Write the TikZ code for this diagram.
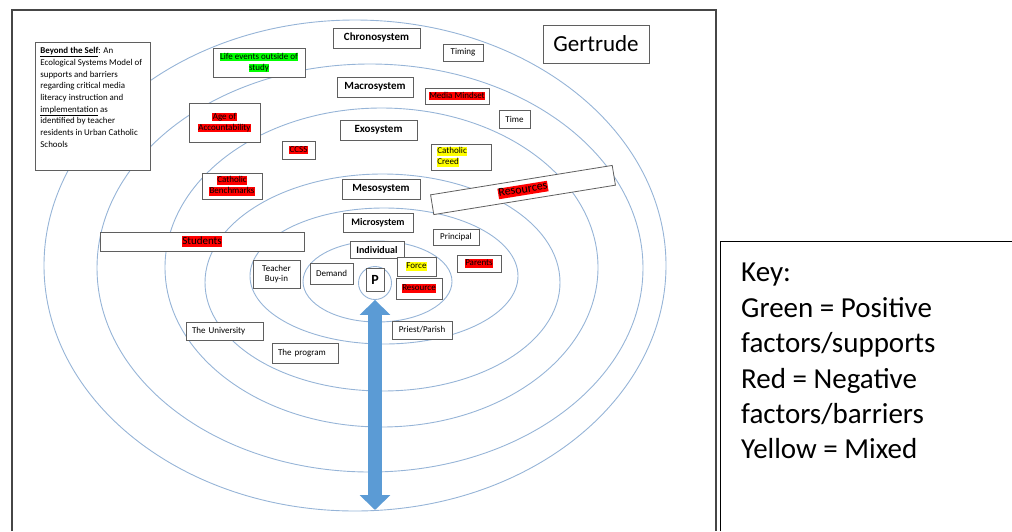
\documentclass[tikz,border=0pt]{standalone}
\usepackage{fontspec}
\setmainfont{Carlito}
\usetikzlibrary{arrows.meta}
\definecolor{ringblue}{RGB}{150,180,215}
\definecolor{arrowblue}{RGB}{91,155,213}
\definecolor{boxgray}{RGB}{95,95,95}
\definecolor{framegray}{RGB}{70,70,70}
\definecolor{hlred}{RGB}{255,0,0}
\definecolor{hlgreen}{RGB}{0,255,0}
\definecolor{hlyellow}{RGB}{255,255,0}
\newcommand{\hlbox}[2]{{\setlength{\fboxsep}{0.4pt}\colorbox{#1}{\vphantom{Ag}#2}}}
\tikzset{
  ring/.style={draw=ringblue, line width=0.9pt},
  lbl/.style={draw=boxgray, fill=white, line width=0.8pt, inner sep=1pt, align=center, font=\fontsize{9}{11}\selectfont},
  sysbox/.style={lbl, font=\bfseries\fontsize{11}{13}\selectfont}
}
\begin{document}
\begin{tikzpicture}[x=1pt, y=-1pt]
\useasboundingbox (0,0) rectangle (1012,531);
\draw[framegray, line width=1.3pt] (12,531) -- (12,10) -- (716,10) -- (716,531);
\foreach \cx/\cy/\rx/\ry in {377.5/281.5/74.5/40.5, 384/276/134/68, 382.5/282.5/177.5/108.5, 381.5/267.5/216.5/159.5, 370/268/273/204, 355/265.5/311/245.5}
  \draw[ring] (\cx,\cy) ellipse [x radius=\rx pt, y radius=\ry pt];
\node[shape=circle, draw=ringblue, line width=0.9pt, fill=white, minimum size=33pt, inner sep=0pt] (pring) at (375,283) {};
\coordinate (arrowend) at (375,510);
\draw[arrowblue, line width=14pt, {Triangle[width=30pt,length=15pt]}-{Triangle[width=30pt,length=15pt]}] (pring.south) -- (arrowend);
\node[lbl, anchor=north west, inner sep=5pt, font=\fontsize{8.9}{11.7}\selectfont] (intro) at (35,42) {\parbox[t][118pt][t]{105pt}{\raggedright \underline{\textbf{Beyond the Self}}: An\\Ecological Systems Model of\\supports and barriers\\regarding critical media\\literacy instruction and\\\underline{implementation} as\\identified by teacher\\residents in Urban Catholic\\Schools}};
\node[lbl, minimum width=106pt, minimum height=38pt, font=\fontsize{23}{26}\selectfont] (gertrude) at (596,44) {Gertrude};
\node[sysbox, minimum width=87pt, minimum height=20pt] (chrono) at (376.5,38) {Chronosystem};
\node[lbl, minimum width=40pt, minimum height=17pt] (timing) at (463,52.5) {Timing};
\node[lbl, minimum width=92pt, minimum height=29pt] (life) at (259,62.5) {\hlbox{hlgreen}{Life events outside of}\\\hlbox{hlgreen}{study}};
\node[sysbox, minimum width=76pt, minimum height=20pt] (macro) at (375,87) {Macrosystem};
\node[lbl, minimum width=64pt, minimum height=16pt] (mindset) at (457,96) {\hlbox{hlred}{Media Mindset}};
\node[lbl, minimum width=31pt, minimum height=18pt] (time) at (514.5,119) {Time};
\node[lbl, minimum width=71pt, minimum height=39pt] (account) at (224.5,122.5) {\hlbox{hlred}{Age of}\\\hlbox{hlred}{Accountability}};
\node[sysbox, minimum width=77pt, minimum height=20pt] (exo) at (378.5,130) {Exosystem};
\node[lbl, minimum width=33pt, minimum height=18pt] (ccss) at (298.5,150) {\hlbox{hlred}{CCSS}};
\node[lbl, text width=48pt, inner xsep=6pt, minimum height=26pt, align=left] (creed) at (461,157) {\hlbox{hlyellow}{Catholic}\\\hlbox{hlyellow}{Creed}};
\node[lbl, minimum width=60pt, minimum height=26pt] (bench) at (232,186) {\hlbox{hlred}{Catholic}\\\hlbox{hlred}{Benchmarks}};
\node[sysbox, minimum width=78pt, minimum height=20pt] (meso) at (381,189) {Mesosystem};
\node[lbl, minimum width=184pt, minimum height=20pt, rotate=9.2, font=\fontsize{12}{14}\selectfont] (resources) at (523,190) {\hlbox{hlred}{Resources}};
\node[lbl, minimum width=204pt, minimum height=19pt, font=\fontsize{11}{13}\selectfont] (students) at (202,241.5) {\hlbox{hlred}{Students}};
\node[sysbox, minimum width=70pt, minimum height=19pt, font=\bfseries\fontsize{10}{12}\selectfont] (micro) at (378,222.5) {Microsystem};
\node[lbl, minimum width=46pt, minimum height=16pt] (principal) at (456,237.5) {Principal};
\node[sysbox, minimum width=54pt, minimum height=17pt, font=\bfseries\fontsize{10}{12}\selectfont] (indiv) at (377,250) {Individual};
\node[lbl, minimum width=47pt, minimum height=28pt, font=\fontsize{9}{10}\selectfont] (buyin) at (276.5,274) {Teacher\\Buy-in};
\node[lbl, minimum width=43pt, minimum height=21pt] (demand) at (331.5,273.5) {Demand};
\node[lbl, minimum width=39pt, minimum height=19pt] (force) at (416.5,266.5) {\hlbox{hlyellow}{Force}};
\node[lbl, minimum width=44pt, minimum height=17pt] (parents) at (479,263.5) {\hlbox{hlred}{Parents}};
\node[lbl, minimum width=46pt, minimum height=21pt] (resource) at (419,288.5) {\hlbox{hlred}{Resource}};
\node[lbl, minimum width=18pt, minimum height=23pt, font=\bfseries\fontsize{14}{16}\selectfont] (p) at (375,279.5) {P};
\node[lbl, text width=65pt, inner xsep=6pt, minimum height=18pt, align=left] (univ) at (224.5,331) {The University};
\node[lbl, text width=54pt, inner xsep=6pt, minimum height=20pt, align=left] (program) at (305,353) {The program};
\node[lbl, minimum width=60pt, minimum height=18pt] (priest) at (422,330) {Priest/Parish};
\draw[black, line width=1.3pt] (720.7,531) -- (720.7,241.7) -- (1012,241.7);
\node[anchor=north west, align=left, inner sep=0pt, font=\fontsize{29}{35.4}\selectfont] (key) at (741,263) {Key:\\Green = Positive\\factors/supports\\Red = Negative\\factors/barriers\\Yellow = Mixed};
\end{tikzpicture}
\end{document}
